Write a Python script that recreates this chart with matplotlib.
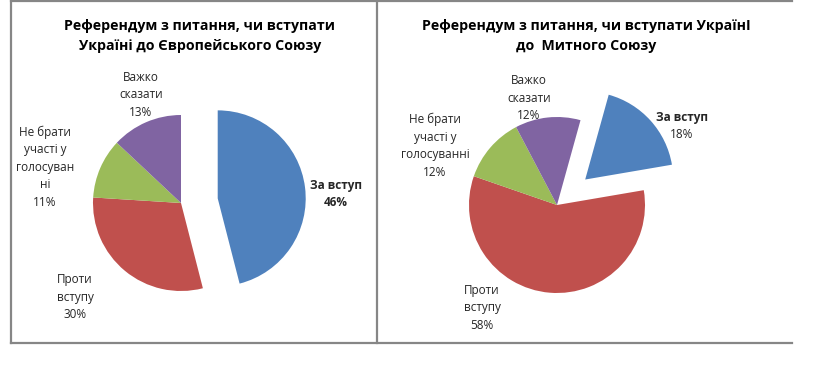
import matplotlib
matplotlib.use("Agg")
from matplotlib import pyplot as plt
from matplotlib.lines import Line2D

plt.rcParams['font.family'] = ['Open Sans', 'DejaVu Sans']

# Data
categories = ["За вступ", "Проти вступу", "Не брати участі у голосуванні", "Важко сказати"]
eu_values = [46, 30, 11, 13]
cu_values = [18, 58, 12, 12]
colors = ['#4F81BD', '#C0504D', '#9BBB59', '#8064A2']

eu_title = "Референдум з питання, чи вступати\nУкраїні до Європейського Союзу"
cu_title = "Референдум з питання, чи вступати УкраїнІ\nдо  Митного Союзу"

# label texts (line breaks as in the picture)
eu_labels = ["За вступ\n46%", "Проти\nвступу\n30%", "Не брати\nучасті у\nголосуван\nні\n11%", "Важко\nсказати\n13%"]
cu_labels = ["За вступ", "Проти\nвступу\n58%", "Не брати\nучасті у\nголосуванні\n12%", "Важко\nсказати\n12%"]

W, H = 825, 377
fig = plt.figure(figsize=(W / 100, H / 100), dpi=100)
ax = fig.add_axes([0, 0, 1, 1])

# pixel helper: y measured from top
def py(y):
    return H - y

R = 88
# explode is applied in data units (pixels here)
ax.pie(eu_values, colors=colors, startangle=90, counterclock=False,
       explode=[37, 0, 0, 0], center=(181, py(203)), radius=R,
       wedgeprops=dict(linewidth=0))
ax.pie(cu_values, colors=colors, startangle=74.5, counterclock=False,
       explode=[38, 0, 0, 0], center=(557, py(205)), radius=R,
       wedgeprops=dict(linewidth=0))

ax.set_xlim(0, W)
ax.set_ylim(0, H)
ax.set_aspect('auto')
ax.axis('off')

txt = '#262626'
lab_kw = dict(ha='center', va='center', fontsize=8.5, color=txt, linespacing=1.45)

# left chart labels
eu_pos = [(336, 194), (75, 297), (45, 167), (141, 95)]
for i, (s, (x, y)) in enumerate(zip(eu_labels, eu_pos)):
    ax.text(x, py(y), s, fontweight='bold' if i == 0 else 'normal', **lab_kw)

# right chart labels
cu_pos = [(682, 117), (482, 308), (435, 146), (529, 98)]
for i, (s, (x, y)) in enumerate(zip(cu_labels, cu_pos)):
    ax.text(x, py(y), s, fontweight='bold' if i == 0 else 'normal', **lab_kw)
ax.text(682, py(134), f"{cu_values[0]}%", **lab_kw)

# titles
ax.text(200, py(36), eu_title, ha='center', va='center', fontsize=10.2,
        fontweight='bold', color='black', linespacing=1.5)
ax.text(586, py(36), cu_title, ha='center', va='center', fontsize=10.2,
        fontweight='bold', color='black', linespacing=1.5)

# frames
lc = '#868686'
for xs, ys in [((11, 792), (1, 1)), ((11, 792), (343, 343)),
               ((11, 11), (1, 343)), ((377, 377), (1, 343))]:
    ax.add_line(Line2D(xs, [py(v) for v in ys], color=lc, linewidth=1.6))

fig.savefig("out.png", dpi=100)
